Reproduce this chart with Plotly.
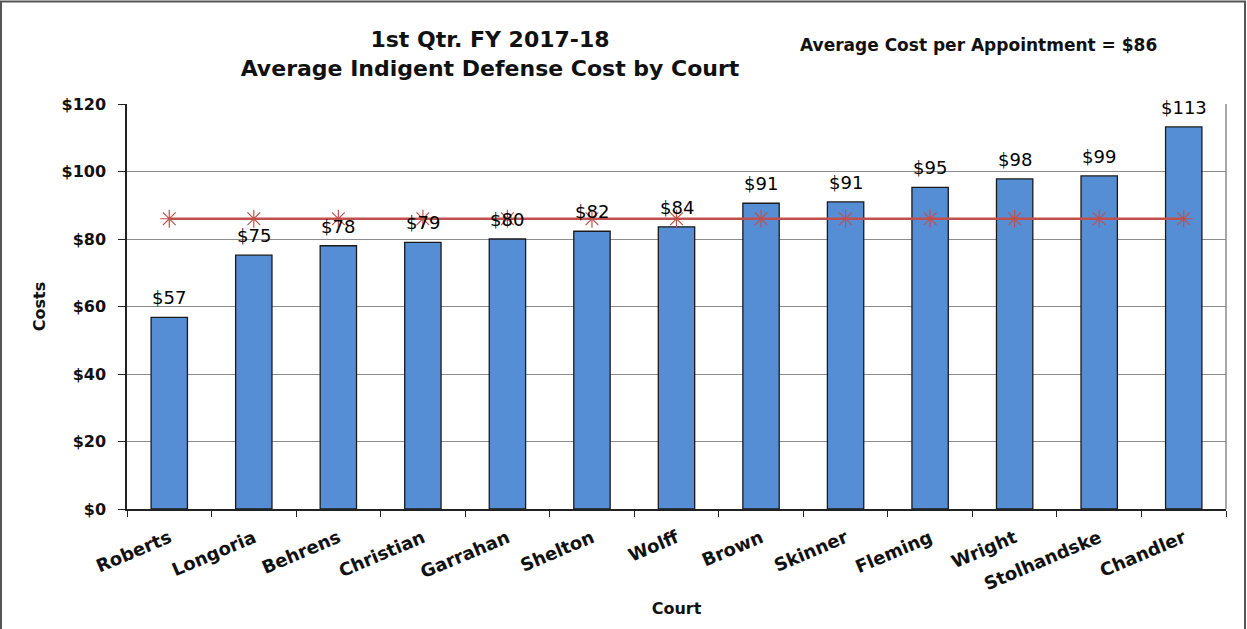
import plotly.graph_objects as go

courts = ["Roberts", "Longoria", "Behrens", "Christian", "Garrahan", "Shelton", "Wolff",
          "Brown", "Skinner", "Fleming", "Wright", "Stolhandske", "Chandler"]
costs = [56.8, 75.2, 78.0, 79.0, 80.0, 82.3, 83.6, 90.6, 91.0, 95.3, 97.8, 98.7, 113.2]
average_cost = [86] * len(courts)
y_ticks = [0, 20, 40, 60, 80, 100, 120]
y_tick_labels = ["$0", "$20", "$40", "$60", "$80", "$100", "$120"]

W, H = 1247, 629
ml, mr, mt, mb = 127, 21, 104, 120
pw, ph = W - ml - mr, H - mt - mb
WIDE = "DejaVu Sans, Verdana, sans-serif"

fig = go.Figure()
fig.add_trace(go.Bar(
    x=courts, y=costs, width=0.43,
    marker=dict(color="#558ED5", line=dict(color="#1a1a1a", width=1.3)),
    showlegend=False, hoverinfo="x+y",
))
fig.add_trace(go.Scatter(
    x=courts, y=average_cost, mode="lines+markers",
    line=dict(color="#C0504D", width=2.5),
    marker=dict(symbol="asterisk-open", size=15, color="#C0504D", line=dict(color="#C0504D", width=1.2)),
    showlegend=False,
))

value_labels = [
    dict(x=c, y=v, text=f"${v:.0f}", xref="x", yref="y", showarrow=False,
         xanchor="center", yanchor="bottom", yshift=7,
         font=dict(family=WIDE, size=18, color="#000"))
    for c, v in zip(courts, costs)
]

fig.update_layout(
    width=W, height=H,
    margin=dict(l=ml, r=mr, t=mt, b=mb, autoexpand=False),
    paper_bgcolor="white", plot_bgcolor="white",
    title=dict(text="<b>1st Qtr. FY 2017-18<br>Average Indigent Defense Cost by Court</b>",
               x=490 / W, xanchor="center", y=1 - 47 / H, yanchor="middle",
               font=dict(family=WIDE, size=22, color="#111")),
    font=dict(family="Arial, Liberation Sans", color="#111"),
    xaxis=dict(
        tickvals=courts, ticktext=[f"<b>{c}</b>" for c in courts],
        range=[-0.5, len(courts) - 0.5],
        showline=True, linecolor="#222", linewidth=1.5, mirror=False,
        ticks="outside", ticklen=6, tickcolor="#222", tickson="boundaries",
        tickangle=-23, tickfont=dict(size=18, family=WIDE), ticklabelstandoff=10,
        title=dict(text="<b>Court</b>", font=dict(size=16, family=WIDE), standoff=10),
        showgrid=False, automargin=False,
    ),
    yaxis=dict(
        range=[0, 120], tickvals=y_ticks, ticktext=[f"<b>{t}</b>" for t in y_tick_labels],
        showline=True, linecolor="#222", linewidth=1.5,
        ticks="outside", ticklen=7, tickcolor="#222", ticklabelstandoff=9,
        tickfont=dict(size=16, family=WIDE),
        showgrid=True, gridcolor="#8c8c8c", gridwidth=1,
        title=dict(text="<b>Costs</b>", font=dict(size=16, family=WIDE), standoff=12),
        zeroline=False, automargin=False,
    ),
    shapes=[
        dict(type="line", xref="paper", yref="paper", x0=1, x1=1, y0=0, y1=1,
             line=dict(color="#8c8c8c", width=1.5)),
        dict(type="rect", xref="paper", yref="paper",
             x0=(-ml + 1) / pw, x1=(W - ml - 2) / pw,
             y0=-(mb + 5) / ph, y1=(H - mb - 1.5) / ph,
             line=dict(color="#555", width=2)),
    ],
    annotations=value_labels + [
        dict(text="<b>Average Cost per Appointment = $86</b>", xref="paper", yref="paper",
             x=(978 - ml) / pw, y=(H - mb - 45) / ph, xanchor="center", yanchor="middle",
             showarrow=False, font=dict(family=WIDE, size=17, color="#111")),
    ],
)

fig.write_html("out.html", post_script="document.body.style.margin='0';",
               config={"displayModeBar": False})
